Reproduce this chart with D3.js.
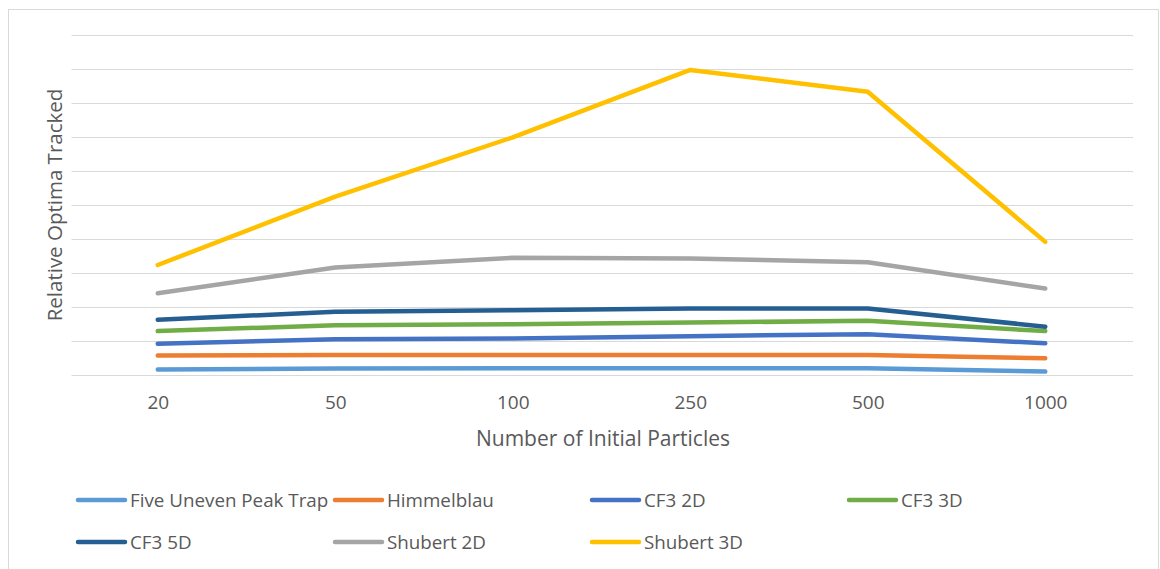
<!DOCTYPE html>
<html>
<head>
<meta charset="utf-8">
<script src="https://cdn.jsdelivr.net/npm/d3@7"></script>
<style>
  body { margin: 0; background: #fff; }
  svg text { font-family: "Open Sans", "Noto Sans", sans-serif; fill: #595959; }
</style>
</head>
<body>
<div id="chart"></div>
<script>
// categories on the x axis
const particles = ['20', '50', '100', '250', '500', '1000'];

// series names, colours and values (relative optima tracked)
const seriesNames = ['Five Uneven Peak Trap', 'Himmelblau', 'CF3 2D', 'CF3 3D', 'CF3 5D', 'Shubert 2D', 'Shubert 3D'];
const seriesColors = ['#5B9BD5', '#ED7D31', '#4472C4', '#70AD47', '#255E91', '#A5A5A5', '#FFC000'];

const fiveUneven = [0.16, 0.19, 0.20, 0.20, 0.20, 0.10];
const himmelblau = [0.57, 0.59, 0.59, 0.59, 0.59, 0.49];
const cf3_2d     = [0.92, 1.05, 1.07, 1.14, 1.20, 0.93];
const cf3_3d     = [1.29, 1.46, 1.49, 1.54, 1.59, 1.29];
const cf3_5d     = [1.62, 1.86, 1.90, 1.95, 1.95, 1.42];
const shubert2d  = [2.40, 3.16, 3.44, 3.42, 3.31, 2.54];
const shubert3d  = [3.23, 5.24, 6.98, 8.96, 8.32, 3.91];

const seriesValues = [fiveUneven, himmelblau, cf3_2d, cf3_3d, cf3_5d, shubert2d, shubert3d];
const yTicks = d3.range(0, 11, 1);

const width = 1160;
const height = 569;

const svg = d3.select('#chart')
  .append('svg')
  .attr('width', width)
  .attr('height', height);

// chart area border
svg.append('rect')
  .attr('x', 8.5)
  .attr('y', 9.5)
  .attr('width', 1150)
  .attr('height', 580)
  .attr('fill', 'none')
  .attr('stroke', '#d9d9d9');

const xScale = d3.scalePoint()
  .domain(particles)
  .range([69, 1134])
  .padding(0.5);

const yScale = d3.scaleLinear()
  .domain([0, 10])
  .range([375, 34.5]);

// gridlines
svg.append('g')
  .selectAll('line')
  .data(yTicks)
  .enter()
  .append('line')
  .attr('x1', 71.5)
  .attr('x2', 1133)
  .attr('y1', d => Math.round(yScale(d)) + 0.5)
  .attr('y2', d => Math.round(yScale(d)) + 0.5)
  .attr('stroke', '#d9d9d9')
  .attr('stroke-width', 1);

// x axis labels
const xAxis = svg.append('g')
  .attr('class', 'x-axis')
  .attr('transform', 'translate(0, 375)')
  .call(d3.axisBottom(xScale).tickSize(0).tickPadding(21));
xAxis.select('.domain').remove();
xAxis.selectAll('text')
  .style('font-size', '19px')
  .attr('fill', '#595959');

// lines
const line = d3.line()
  .x((d, i) => xScale(particles[i]))
  .y(d => yScale(d));

svg.append('g')
  .selectAll('path')
  .data(seriesValues)
  .enter()
  .append('path')
  .attr('d', d => line(d))
  .attr('fill', 'none')
  .attr('stroke', (d, i) => seriesColors[i])
  .attr('stroke-width', 4.5)
  .attr('stroke-linecap', 'round')
  .attr('stroke-linejoin', 'round');

// axis titles
svg.append('text')
  .attr('x', 603)
  .attr('y', 446)
  .style('text-anchor', 'middle')
  .style('font-size', '21px')
  .text('Number of Initial Particles');

svg.append('text')
  .attr('transform', 'rotate(-90)')
  .attr('x', -205)
  .attr('y', 62)
  .style('text-anchor', 'middle')
  .style('font-size', '20.5px')
  .text('Relative Optima Tracked');

// legend
const legend = svg.append('g');
const legendItems = legend.selectAll('g')
  .data(seriesNames)
  .enter()
  .append('g')
  .attr('transform', (d, i) => `translate(${78 + (i % 4) * 257}, ${500 + Math.floor(i / 4) * 42})`);

legendItems.append('line')
  .attr('x1', 0)
  .attr('x2', 47)
  .attr('stroke', (d, i) => seriesColors[i])
  .attr('stroke-width', 4.5)
  .attr('stroke-linecap', 'round');

legendItems.append('text')
  .attr('x', 52)
  .attr('y', 6.5)
  .style('font-size', '18.8px')
  .text(d => d);
</script>
</body>
</html>
